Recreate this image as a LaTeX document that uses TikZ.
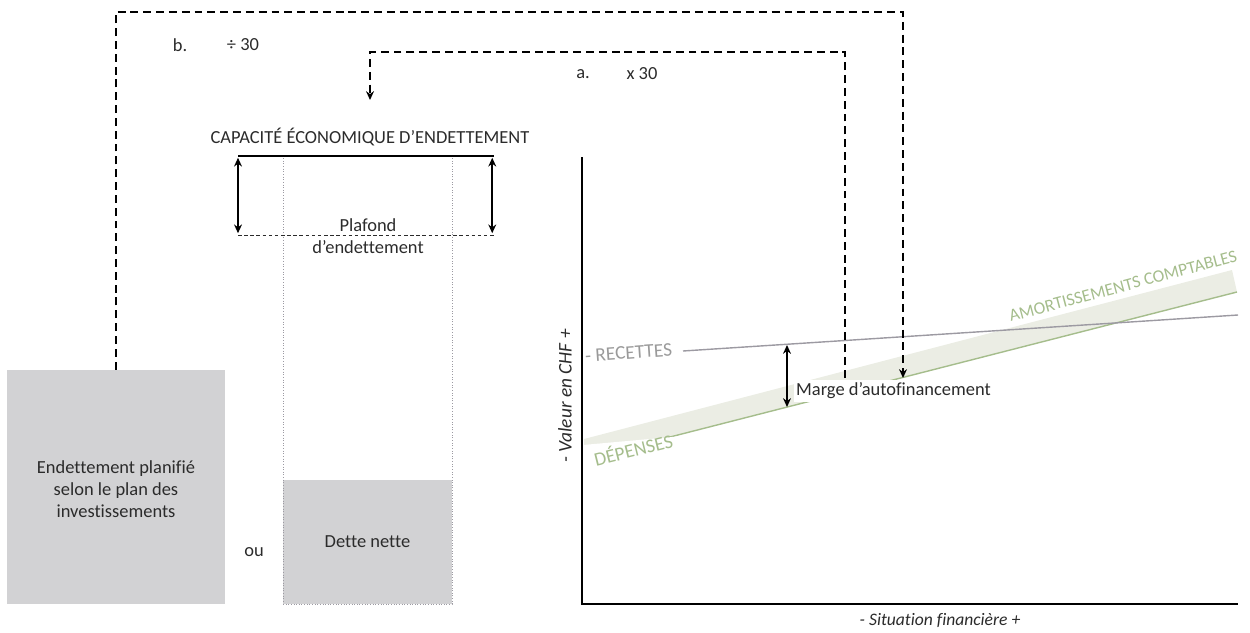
\documentclass[tikz,border=0pt]{standalone}
\usepackage{fontspec}
\setmainfont{Carlito}[Ligatures=NoCommon]
\usetikzlibrary{arrows.meta, positioning, calc}
\definecolor{cink}{HTML}{2B2B2B}
\definecolor{cgrey}{HTML}{D2D2D4}
\definecolor{cline}{HTML}{9C9AA2}
\definecolor{cgreen}{HTML}{A5BD8C}
\definecolor{cband}{HTML}{EBEDE4}
\definecolor{ctxt}{HTML}{9A9A9A}
\tikzset{
  every picture/.style={font=\fontsize{10.5}{12.5}\selectfont, text=cink, line width=0.6pt},
  greybox/.style={fill=cgrey, inner sep=0pt},
  link/.style={draw=black, line width=0.9pt, dash pattern=on 4.5pt off 2.8pt},
  tip/.style={-{Stealth[length=5pt, width=4.5pt]}},
  both/.style={{Stealth[length=5pt, width=4.5pt]}-{Stealth[length=5pt, width=4.5pt]}, line width=0.9pt},
  curvelab/.style={font=\fontsize{11}{13}\selectfont},
}

\begin{document}
\begin{tikzpicture}[x=0.02cm, y=-0.02cm]
  \useasboundingbox (0,0) rectangle (1250,632);
  % left box
  \node[greybox, minimum width=4.36cm, minimum height=4.68cm] (plan) at (116,487) {};
  \node[align=center] (plantxt) at (116,489) {Endettement planifié\\selon le plan des\\investissements};
  \node (ou) at (254,552) {ou};
  % debt column
  \node[greybox, minimum width=3.38cm, minimum height=2.48cm] (dette) at (367.5,542) {Dette nette};
  \node[draw=cline, densely dotted, line width=0.5pt, minimum width=3.38cm, minimum height=8.96cm] (col) at (367.5,380) {};
  \node (cap) at (370,137) {CAPACITÉ ÉCONOMIQUE D’ENDETTEMENT};
  \coordinate (capin) at (370,100);
  \coordinate (ceilL) at (238,156);
  \coordinate (ceilR) at (494,156);
  \coordinate (plafL) at (238,235);
  \coordinate (plafR) at (494,235);
  \draw[line width=1pt] (ceilL) -- (ceilR);
  \draw[cink, line width=0.4pt, dash pattern=on 2pt off 1.5pt] (plafL) -- (plafR);
  \draw[both] ([yshift=-1pt]ceilL) -- ([yshift=1pt]plafL);
  \draw[both] ([xshift=-1pt,yshift=-1pt]ceilR) -- ([xshift=-1pt,yshift=1pt]plafR);
  \node[align=center] (plafond) at (368,236) {Plafond\\d’endettement};
  % chart
  \fill[cband] (584,439) -- (1232,270) -- (1237,292) -- (584,459) -- cycle;
  \coordinate (depA) at (584,459);
  \coordinate (depB) at (1237,292);
  \coordinate (recA) at (683,351);
  \coordinate (recB) at (1238,315);
  \draw[cgreen, line width=0.8pt] (depA) -- (depB);
  \fill[white] (583,445) -- (683,436) -- (683,475) -- (583,475) -- cycle;
  \draw[cline, line width=0.8pt] (recA) -- (recB);
  \coordinate (origin) at (582,604);
  \draw[line width=0.7pt] (582,157) -- (origin) -- (1238,604);
  \node[rotate=90, font=\fontsize{11}{13}\selectfont\itshape] (yaxis) at (565,396) {- Valeur en CHF +};
  \node[font=\fontsize{10}{12}\selectfont\itshape] (xaxis) at (940,620) {- Situation financière +};
  \node[curvelab, text=ctxt, rotate=4, anchor=west, inner sep=1pt] (rec) at (583,356) {- RECETTES};
  \node[curvelab, text=cgreen, rotate=14, inner sep=1pt] (dep) at (633,449) {DÉPENSES};
  \node[text=cgreen, rotate=15, font=\fontsize{10}{12}\selectfont, inner sep=0pt] (amort) at (1123,286) {AMORTISSEMENTS COMPTABLES};
  \node[fill=white, anchor=west, inner sep=1.5pt] (marge) at (793,391) {Marge d’autofinancement};
  \draw[both] (787,345) -- (787,407);
  % multiplier links
  \coordinate (aout) at (845,378);
  \coordinate (bin) at (903,378);
  \draw[link, tip] (aout) -- (845,52) -- (370,52) -- (capin);
  \draw[link, tip] (plan.north) -- (116,12) -- (903,12) -- (bin);
  \node (alab) at (583,74) {a.};
  \node (afac) at (642,74) {x 30};
  \node (blab) at (180,45) {b.};
  \node (bfac) at (243,45) {÷ 30};
\end{tikzpicture}
\end{document}
